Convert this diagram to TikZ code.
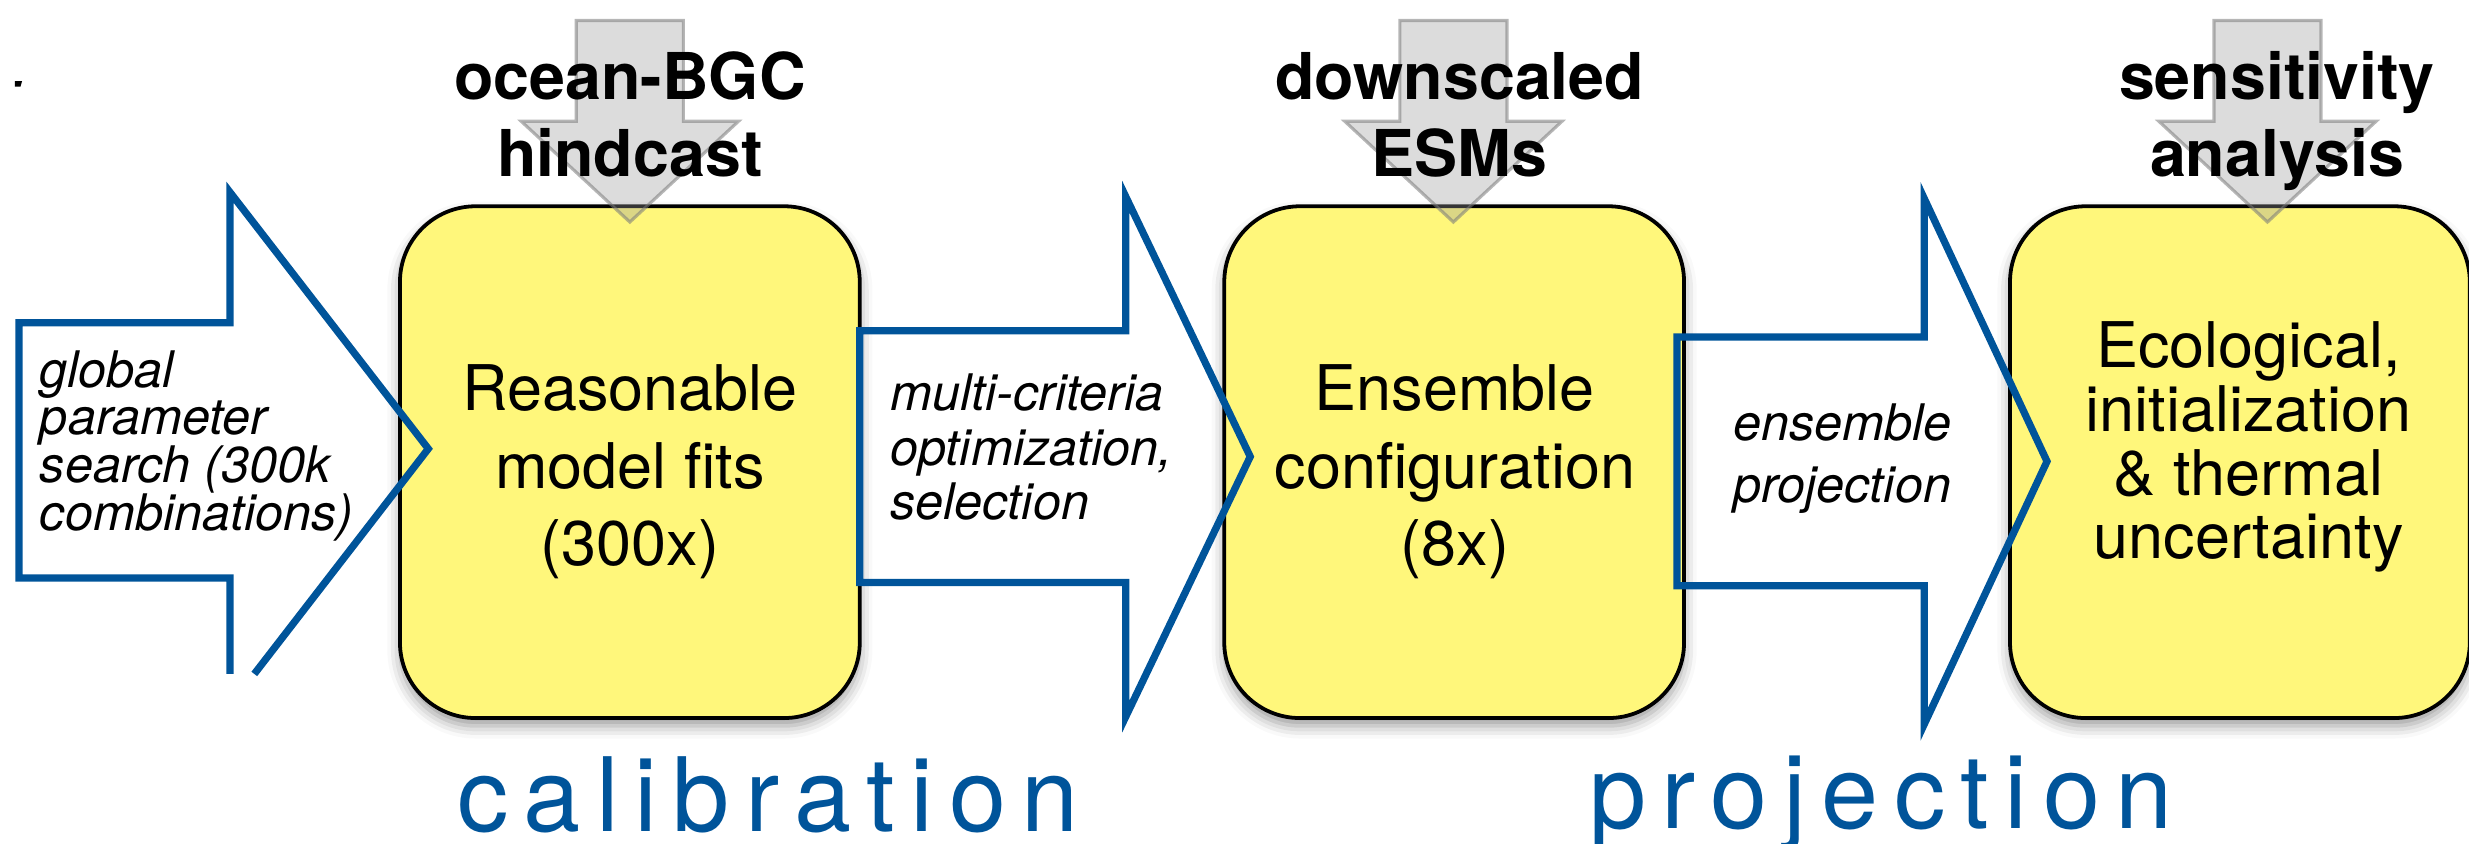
\documentclass[tikz,border=0pt]{standalone}
\usepackage{fontspec}
\setmainfont{TeX Gyre Heros}
\usetikzlibrary{shadows.blur}
\definecolor{boxyellow}{HTML}{FFF77B}
\definecolor{arrblue}{HTML}{00549A}
\definecolor{grayfill}{HTML}{9A9A9A}
\definecolor{grayline}{HTML}{7A7A7A}
\begin{document}
\begin{tikzpicture}[x=0.5pt,y=-0.5pt,
  stagebox/.style={draw=black, line width=1.2pt, fill=boxyellow, rounded corners=24pt,
    minimum width=146pt, minimum height=162.5pt, inner sep=0pt,
    blur shadow={shadow xshift=0pt, shadow yshift=-2.5pt, shadow blur radius=4pt, shadow opacity=40}},
  bluearrow/.style={draw=arrblue, line width=2.3pt, line join=miter},
  grayarrow/.style={draw=grayline, line width=1pt, fill=grayfill, fill opacity=0.35, draw opacity=0.55},
  toplabel/.style={font=\fontsize{20.5pt}{24.5pt}\selectfont\bfseries, align=center, inner sep=0pt, anchor=base},
  boxtext/.style={font=\fontsize{20pt}{24.5pt}\selectfont, align=center, inner sep=0pt, anchor=base},
  steptext/.style={font=\fontsize{16pt}{#1}\selectfont\itshape, inner sep=0pt, anchor=base},
  phase/.style={font=\fontsize{32.6pt}{36pt}\selectfont\addfontfeature{LetterSpace=15}, text=arrblue, inner sep=0pt, anchor=base west},
  downarrow/.pic={\draw[grayarrow] (-34,13) -- (34,13) -- (34,77) -- (69,77) -- (0,141) -- (-69,77) -- (-34,77) -- cycle;}
]
\useasboundingbox (0,0) rectangle (1568,536);
% stray mark
\fill (9.5,51.5) -- (14,51.5) -- (13,55) -- (9.5,55) -- cycle;
% boxes
\node[stagebox] (box1) at (400,293.5) {};
\node[stagebox] (box2) at (923.5,293.5) {};
\node[stagebox] (box3) at (1422.5,293.5) {};
% gray input arrows
\pic at (400,0) {downarrow};
\pic at (923,0) {downarrow};
\pic at (1440,0) {downarrow};
% top labels (anchor = baseline of last line)
\node[toplabel] (lab1) at (400,112) {ocean-BGC\\hindcast};
\node[toplabel] (lab2) at (927,112) {downscaled\\ESMs};
\node[toplabel] (lab3) at (1446,112) {sensitivity\\analysis};
% blue block arrows
\draw[bluearrow] (146,428) -- (146,367) -- (12,367) -- (12,205) -- (146,205) -- (146,122) -- (272,285) -- (161.5,428);
\draw[bluearrow] (546,210) -- (715,210) -- (715,125) -- (794,290) -- (715,455) -- (715,370) -- (546,370) -- cycle;
\draw[bluearrow] (1065,214) -- (1222,214) -- (1222,126) -- (1300,293) -- (1222,460) -- (1222,372) -- (1065,372) -- cycle;
% box texts
\node[boxtext] (t1) at (400,359) {Reasonable\\model fits\\(300x)};
\node[boxtext] (t2) at (924,359) {Ensemble\\configuration\\(8x)};
\node[boxtext, font=\fontsize{20pt}{20.3pt}\selectfont] (t3) at (1428,355) {Ecological,\\initialization\\\& thermal\\uncertainty};
% arrow texts
\node[steptext=15.2pt, align=left, anchor=base west] (s1) at (25,337) {global\\parameter\\search (300k\\combinations)};
\node[steptext=17.3pt, align=left, anchor=base west] (s2) at (565,330) {multi-criteria\\optimization,\\selection};
\node[steptext=19.5pt, align=center] (s3) at (1170,319) {ensemble\\projection};
% phase labels
\node[phase] (cal) at (290,528) {calibration};
\node[phase] (proj) at (1009,526) {projection};
\end{tikzpicture}
\end{document}
